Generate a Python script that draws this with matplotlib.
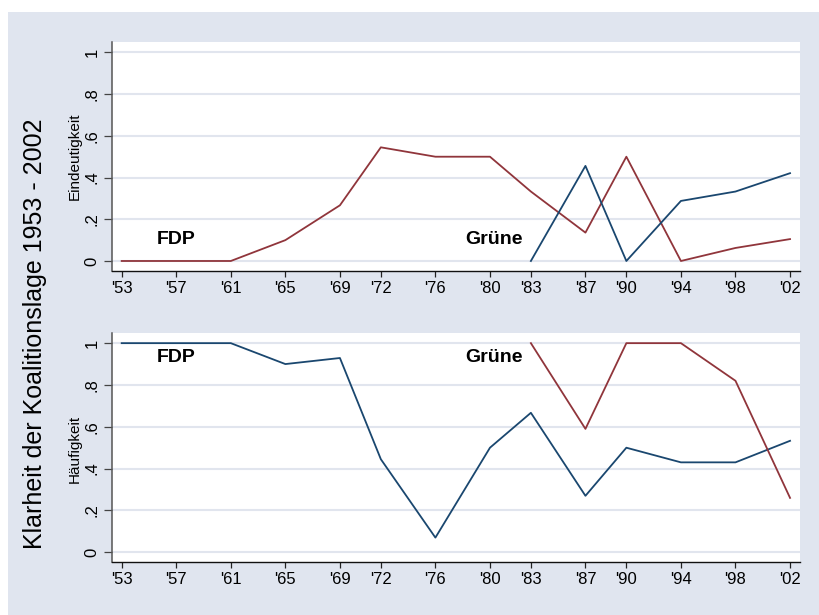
import matplotlib
matplotlib.use("Agg")
import matplotlib.pyplot as plt
from matplotlib.patches import Rectangle
from matplotlib.ticker import FuncFormatter

plt.rcParams['font.family'] = ['Liberation Sans', 'DejaVu Sans']

years = [1953, 1957, 1961, 1965, 1969, 1972, 1976, 1980, 1983, 1987, 1990, 1994, 1998, 2002]
year_labels = ["'53", "'57", "'61", "'65", "'69", "'72", "'76", "'80", "'83", "'87", "'90", "'94", "'98", "'02"]
gruene_years = [1983, 1987, 1990, 1994, 1998, 2002]

# Eindeutigkeit (top panel)
fdp_eindeutig = [0, 0, 0, 0.10, 0.267, 0.545, 0.50, 0.50, 0.333, 0.136, 0.50, 0.0, 0.0625, 0.105]
gruene_eindeutig = [0.0, 0.456, 0.0, 0.288, 0.333, 0.421]

# Häufigkeit (bottom panel)
fdp_haeufig = [1.0, 1.0, 1.0, 0.90, 0.929, 0.445, 0.07, 0.50, 0.667, 0.27, 0.50, 0.43, 0.43, 0.533]
gruene_haeufig = [1.0, 0.59, 1.0, 1.0, 0.82, 0.26]

yticks = [0, 0.2, 0.4, 0.6, 0.8, 1.0]

navy = '#1a476f'
maroon = '#90353b'
bg = '#e0e5ef'
grid = '#e1e5ee'

W, H = 819, 615
fig = plt.figure(figsize=(W / 100, H / 100), dpi=100, facecolor='white')
fig.patches.append(Rectangle((8 / W, 0), 1 - 8 / W, 1 - 12 / H, transform=fig.transFigure,
                             facecolor=bg, edgecolor='none', zorder=-10))

def fmt(v, pos):
    if abs(v) < 1e-9:
        return '0'
    if abs(v - 1) < 1e-9:
        return '1'
    return ('%.1f' % v).lstrip('0')

TICK_FS = 12

def style(ax):
    ax.set_facecolor('white')
    ax.set_xlim(1952.29, 2002.73)
    ax.set_ylim(-0.048, 1.05)
    ax.set_xticks(years)
    ax.set_xticklabels(year_labels, fontsize=TICK_FS)
    ax.set_yticks(yticks)
    ax.yaxis.set_major_formatter(FuncFormatter(fmt))
    ax.tick_params(axis='x', direction='out', length=4.3, width=0.9, color='#222222', pad=3,
                   labelsize=TICK_FS)
    ax.tick_params(axis='y', direction='out', length=6, width=0.9, color='#444444', pad=3,
                   labelsize=TICK_FS, labelrotation=90)
    for lab in ax.get_yticklabels():
        lab.set_va('center')
    ax.grid(axis='y', color=grid, linewidth=1.5)
    ax.set_axisbelow(True)
    for s in ['top', 'right']:
        ax.spines[s].set_visible(False)
    ax.spines['left'].set_color('#555555')
    ax.spines['bottom'].set_color('#111111')
    ax.spines['left'].set_linewidth(1.1)
    ax.spines['bottom'].set_linewidth(1.0)

ax1 = fig.add_axes([112 / W, 1 - 271 / H, 688 / W, 229 / H])
ax2 = fig.add_axes([112 / W, 1 - 562.3 / H, 688 / W, 229.6 / H])

ax1.plot(years, fdp_eindeutig, color=maroon, linewidth=1.3)
ax1.plot(gruene_years, gruene_eindeutig, color=navy, linewidth=1.3)
style(ax1)
ax1.text(1955.6, 0.105, 'FDP', fontsize=14, fontweight='bold', ha='left', va='center')
ax1.text(1978.2, 0.105, 'Grüne', fontsize=14, fontweight='bold', ha='left', va='center')

ax2.plot(years, fdp_haeufig, color=navy, linewidth=1.3)
ax2.plot(gruene_years, gruene_haeufig, color=maroon, linewidth=1.3)
style(ax2)
ax2.text(1955.6, 0.93, 'FDP', fontsize=14, fontweight='bold', ha='left', va='center')
ax2.text(1978.2, 0.93, 'Grüne', fontsize=14, fontweight='bold', ha='left', va='center')

fig.text(75 / W, 1 - 156.5 / H, 'Eindeutigkeit', rotation=90, fontsize=11, ha='center', va='center')
fig.text(75 / W, 1 - 449 / H, 'Häufigkeit', rotation=90, fontsize=11, ha='center', va='center')

fig.text(35 / W, 1 - 333.5 / H, 'Klarheit der Koalitionslage 1953 - 2002', rotation=90,
         fontsize=18, ha='center', va='center')

fig.savefig('out.png', dpi=100, facecolor='white')
